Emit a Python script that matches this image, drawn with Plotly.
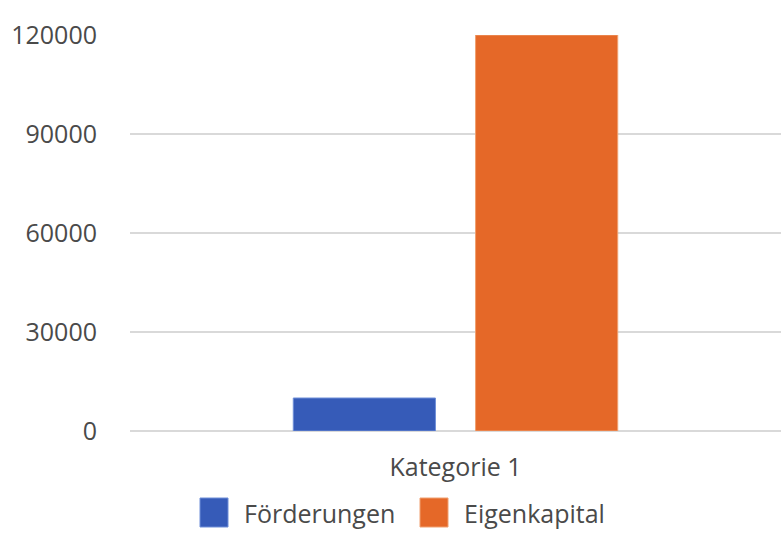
import plotly.graph_objects as go

categories = ["Kategorie 1"]
series_names = ["Förderungen", "Eigenkapital"]
series_values = [[10000], [120000]]
series_colors = ["#365bb8", "#e56828"]
series_line_colors = ["#6f8fd8", "#f0a070"]
y_ticks = [0, 30000, 60000, 90000, 120000]

W, H = 781, 534
L, R, T, B = 130, 0, 35, 103
pw, ph = W - L - R, H - T - B

def px_x(p):
    return (p - L) / pw

def px_y(p):
    return (H - B - p) / ph

fig = go.Figure()
for name, vals, col, lc in zip(series_names, series_values, series_colors, series_line_colors):
    fig.add_trace(go.Bar(x=categories, y=vals, name=name, marker=dict(color=col, line=dict(color=lc, width=1)),
                         showlegend=False))

font = dict(family="Open Sans", size=25, color="#4a4a4a")

# custom legend (large square swatches)
sq_left = [200, 420]
txt_left = [242, 462]
for i, name in enumerate(series_names):
    fig.add_shape(type="rect", xref="paper", yref="paper",
                  x0=px_x(sq_left[i]), x1=px_x(sq_left[i] + 28),
                  y0=px_y(527), y1=px_y(498),
                  fillcolor=series_colors[i], line=dict(color=series_line_colors[i], width=1))
    fig.add_annotation(xref="paper", yref="paper", x=px_x(txt_left[i]), y=px_y(513),
                       xanchor="left", yanchor="middle", text=name, showarrow=False, font=font)

fig.update_layout(
    width=W, height=H,
    margin=dict(l=L, r=R, t=T, b=B),
    paper_bgcolor="white", plot_bgcolor="white",
    font=font,
    barmode="group", bargap=0.44, bargroupgap=0.22,
    showlegend=False,
)
fig.update_yaxes(range=[0, 120000], tickvals=y_ticks, ticktext=[str(v) for v in y_ticks],
                 showgrid=True, gridcolor="#d9d9d9", gridwidth=1.5,
                 zeroline=True, zerolinecolor="#d9d9d9", zerolinewidth=1.5,
                 ticks="outside", ticklen=27, tickcolor="rgba(0,0,0,0)", showline=False)
fig.update_xaxes(showgrid=False, showline=False, ticks="outside", ticklen=14,
                 tickcolor="rgba(0,0,0,0)")

fig.write_html("out.html", config={"displayModeBar": False},
               post_script="document.body.style.margin='0';document.body.style.overflow='hidden';")
